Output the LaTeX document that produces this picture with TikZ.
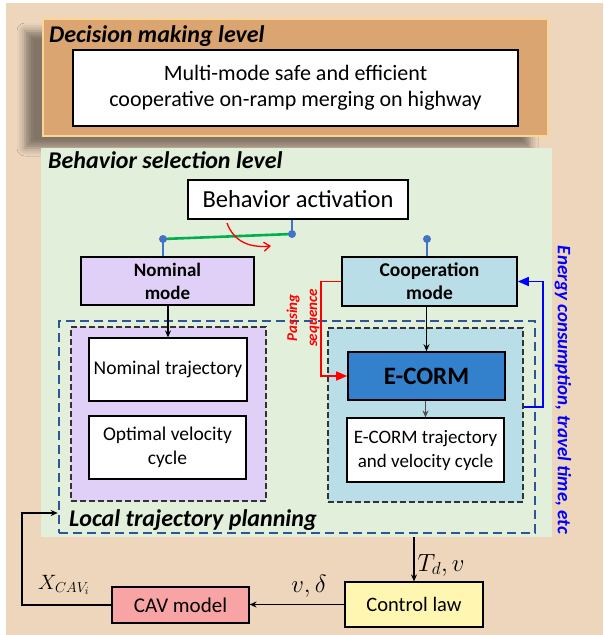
\documentclass[tikz,border=0pt]{standalone}
\usepackage{fontspec}
\setmainfont{Carlito}
\usetikzlibrary{arrows.meta,shadows.blur}
\definecolor{tanbg}{RGB}{238,214,189}
\definecolor{decfill}{RGB}{218,165,112}
\definecolor{decedge}{RGB}{250,214,150}
\definecolor{greenbg}{RGB}{226,239,218}
\definecolor{purp}{RGB}{224,208,248}
\definecolor{lblue}{RGB}{186,222,232}
\definecolor{ecblue}{RGB}{51,128,204}
\definecolor{dblue}{RGB}{47,85,151}
\definecolor{dotblue}{RGB}{68,114,196}
\definecolor{lgreen}{RGB}{0,176,80}
\definecolor{ctrl}{RGB}{255,246,178}
\definecolor{cav}{RGB}{248,164,164}
\newcommand{\fs}[2]{\fontsize{#1}{#2}\selectfont}
\tikzset{
  boxw/.style={draw=black,line width=1.4pt,fill=white,inner sep=0pt,align=center},
  modebox/.style={draw=black,line width=1.6pt,inner sep=0pt,align=center,font=\bfseries\fs{19}{23}},
  region/.style={draw=black!80,line width=1.1pt,dash pattern=on 6pt off 3pt,inner sep=0pt},
  bluedash/.style={draw=dblue,line width=2.6pt,dash pattern=on 9pt off 5pt,inner sep=0pt},
  arr/.style={draw=black,line width=1.1pt,-{Stealth[length=7pt,width=6pt]}},
  dotline/.style={draw=dotblue,line width=2pt},
  dotc/.style={circle,fill=dotblue,minimum size=8pt,inner sep=0pt},
  ttl/.style={font=\bfseries\itshape\fs{24}{28},anchor=base west,inner sep=0pt},
}
\begin{document}
\begin{tikzpicture}[x=1pt,y=-1pt]
\useasboundingbox (0,0) rectangle (603,635);
\fill[tanbg] (6,3) rectangle (603,635);
% decision level
\node[draw=decedge,line width=1.5pt,fill=decfill,minimum width=505pt,minimum height=117pt,inner sep=0pt,
  blur shadow={shadow xshift=-18pt,shadow yshift=-12pt,shadow blur radius=8pt,shadow opacity=45}] (dec) at (295.5,77.5) {};
\node[ttl] (dectitle) at (49,42) {Decision making level};
\node[boxw,line width=1.6pt,minimum width=445pt,minimum height=76pt,font=\fs{22}{26}] (decin) at (295.5,88) {Multi-mode safe and efficient\\cooperative on-ramp merging on highway};
% behavior selection level
\node[fill=greenbg,minimum width=511pt,minimum height=389pt,inner sep=0pt] (green) at (296.5,342.5) {};
\node[ttl] (bstitle) at (48,168) {Behavior selection level};
\node[boxw,line width=1.2pt,minimum width=220pt,minimum height=39pt,font=\fs{24.5}{28}] (ba) at (298,199.5) {Behavior activation};
\node[modebox,fill=purp,minimum width=173pt,minimum height=48pt] (nom) at (167.5,281) {Nominal\\mode};
\node[modebox,fill=lblue,minimum width=175pt,minimum height=49pt,font=\bfseries\fs{19.5}{23}] (coop) at (429.5,281.5) {Cooperation\\mode};
% selector
\coordinate (dotL) at (163,239);
\coordinate (dotR) at (292,234);
\coordinate (dotC) at (427,239);
\draw[dotline] (dotR) -- (dotR |- ba.south);
\draw[dotline] (dotL) -- (dotL |- nom.north);
\draw[dotline] (dotC) -- (dotC |- coop.north);
\draw[draw=lgreen,line width=2.6pt] (dotL) -- (dotR);
\node[dotc] (dl) at (dotL) {};
\node[dotc] (dr) at (dotR) {};
\node[dotc] (dc) at (dotC) {};
\coordinate (rc1) at (227,223);
\coordinate (rc2) at (271,246);
\draw[red,line width=1.3pt,-{Straight Barb[length=6pt,width=9pt]}] (rc1) .. controls (234,242) and (250,248) .. (rc2);
% local trajectory planning
\node[bluedash,minimum width=476pt,minimum height=212pt] (ltp) at (297,427) {};
\node[ttl] (ltptitle) at (69,526) {Local trajectory planning};
\node[region,fill=purp,minimum width=195pt,minimum height=174pt] (nomin) at (168.5,414) {};
\node[region,fill=lblue,minimum width=195pt,minimum height=174pt] (coopin) at (425.5,415) {};
\node[boxw,line width=1.2pt,minimum width=158pt,minimum height=63pt,font=\fs{19.5}{24}] (nomtraj) at (168,369.5) {Nominal trajectory};
\node[boxw,line width=1.2pt,minimum width=157pt,minimum height=63pt,font=\fs{19.5}{24}] (optvel) at (167.5,447.5) {Optimal velocity\\cycle};
\node[modebox,fill=ecblue,minimum width=157pt,minimum height=48pt,font=\bfseries\fs{25}{28}] (ecorm) at (426.5,376) {E-CORM};
\node[boxw,line width=1.2pt,minimum width=157pt,minimum height=64pt,font=\fs{19}{24}] (ecormtraj) at (425.5,450) {E-CORM trajectory\\and velocity cycle};
\draw[arr] (nom.south -| nomtraj.north) -- (nomtraj.north);
\draw[arr] (coop.south -| ecorm.north) -- (ecorm.north);
\draw[arr,draw=black!70] (ecorm.south -| ecormtraj.north) -- (ecormtraj.north);
% passing sequence
\coordinate (rp) at (321,0);
\draw[red,line width=1.6pt,-{Triangle[length=11pt,width=9pt]}] (coop.west) -- (coop.west -| rp) -- (rp |- ecorm.west) -- (ecorm.west);
\node[red,rotate=90,align=center,font=\bfseries\itshape\fs{15}{20}] (ps) at (303,318) {Passing\\sequence};
% energy feedback
\coordinate (bl) at (543,407);
\draw[blue,line width=1.6pt,-{Triangle[length=11pt,width=9pt]}] (bl -| coopin.east) -- (bl) -- (bl |- coop.east) -- (coop.east);
\node[blue,rotate=-90,font=\bfseries\itshape\fs{19}{22}] (energy) at (563,390) {Energy consumption, travel time, etc};
% bottom loop
\node[draw=black,line width=1.2pt,fill=ctrl,minimum width=138pt,minimum height=45pt,inner sep=0pt,font=\fs{20.5}{24}] (control) at (414,604.5) {Control law};
\node[draw=black,line width=1.2pt,fill=cav,minimum width=137pt,minimum height=36pt,inner sep=0pt,font=\fs{21}{24}] (cavm) at (180.5,605) {CAV model};
\draw[arr] (control.north |- green.south) -- (control.north);
\node[anchor=west,font=\fs{23}{26}] (tdv) at (414,565) {$T_d, v$};
\draw[arr] (control.west) -- (control.west -| cavm.east);
\node[font=\fs{24}{26}] (vd) at (309,586) {$v,\delta$};
\coordinate (fb) at (22,513);
\draw[arr] (cavm.west) -| (fb) -- (fb -| ltp.west);
\node[font=\fs{22}{26}] (xcav) at (64,585) {$X_{CAV_i}$};
\end{tikzpicture}
\end{document}
